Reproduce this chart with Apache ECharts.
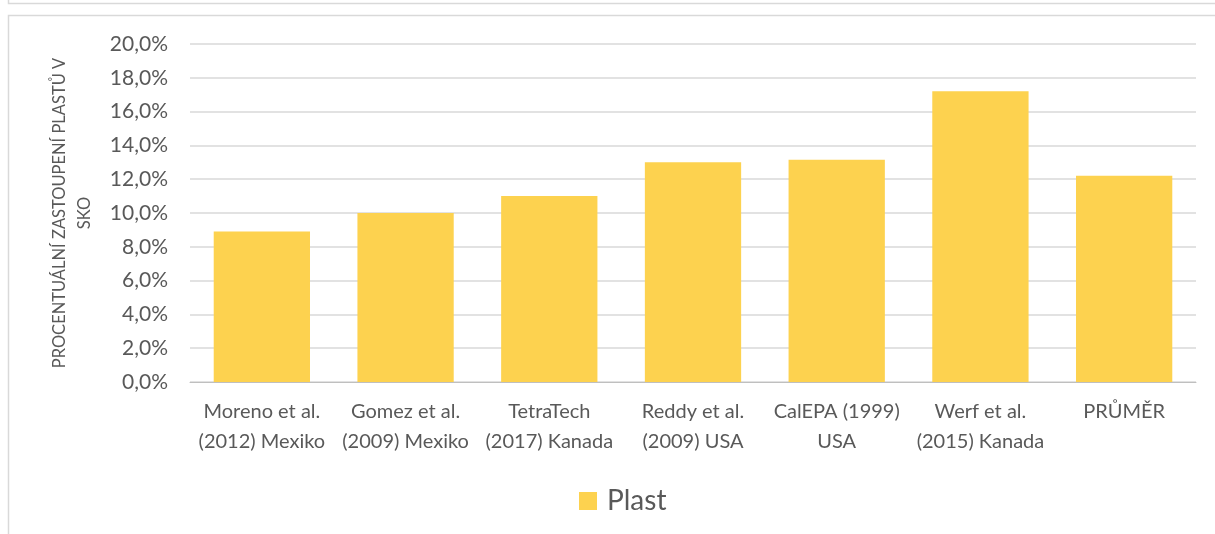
<!DOCTYPE html>
<html><head><meta charset="utf-8">
<script src="https://cdn.jsdelivr.net/npm/echarts@6/dist/echarts.min.js"></script>
<style>html,body{margin:0;padding:0;background:#fff}#c{width:1215px;height:534px}</style>
</head><body><div id="c"></div>
<script>
const categories = ['Moreno et al.\n(2012) Mexiko','Gomez et al.\n(2009) Mexiko','TetraTech\n(2017) Kanada','Reddy et al.\n(2009) USA','CalEPA (1999)\nUSA','Werf et al.\n(2015) Kanada','PRŮMĚR'];
const plast = [8.9, 10.0, 11.0, 13.0, 13.15, 17.2, 12.2];
const seriesName = 'Plast';
const yTitle = 'PROCENTUÁLNÍ ZASTOUPENÍ PLASTŮ V\nSKO';
const font = 'Lato';
const chart = echarts.init(document.getElementById('c'));
chart.setOption({
  animation:false,
  graphic:[
    {type:'rect',shape:{x:8.5,y:-100,width:1300,height:103.5},style:{fill:'none',stroke:'#d9d9d9',lineWidth:1.5}},
    {type:'rect',shape:{x:8.5,y:15.5,width:1300,height:600},style:{fill:'none',stroke:'#d9d9d9',lineWidth:1.5}}
  ],
  grid:{left:190,right:19,top:44,bottom:152},
  legend:{bottom:14,left:574,itemWidth:18,itemHeight:18,icon:'rect',itemGap:8,
    textStyle:{fontFamily:font,fontSize:28,color:'#595959',padding:[0,0,0,5]},data:[seriesName]},
  xAxis:{type:'category',data:categories,
    axisLine:{lineStyle:{color:'#bfbfbf',width:1}},axisTick:{show:false},
    axisLabel:{interval:0,fontFamily:font,fontSize:20,color:'#595959',lineHeight:30,margin:15}},
  yAxis:{type:'value',min:0,max:20,interval:2,
    name:yTitle,nameLocation:'middle',nameGap:93,nameRotate:90,
    nameTextStyle:{fontFamily:font,fontSize:16.5,color:'#595959',lineHeight:25},
    axisLabel:{fontFamily:font,fontSize:21,color:'#595959',margin:22,
      formatter:v=>v.toFixed(1).replace('.',',')+'%'},
    splitLine:{lineStyle:{color:'#d9d9d9',width:1.5}}},
  series:[{name:seriesName,type:'bar',data:plast,barCategoryGap:'33%',
    itemStyle:{color:'#FDD24F'}}]
});
</script></body></html>
